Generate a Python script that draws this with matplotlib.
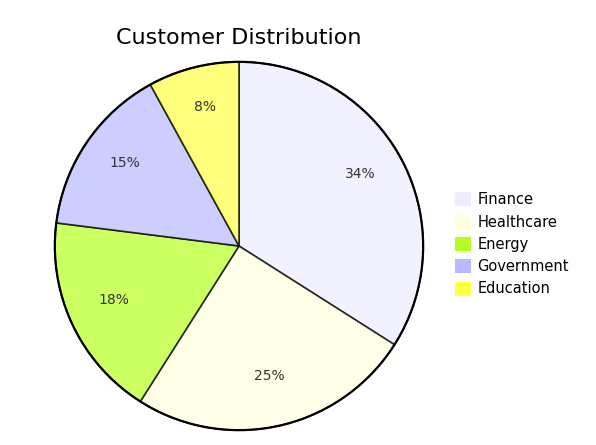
import numpy as np
import matplotlib
matplotlib.use('Agg')
import matplotlib.pyplot as plt
from matplotlib.patches import Patch

categories = ['Finance', 'Healthcare', 'Energy', 'Government', 'Education']
shares = [34, 25, 18, 15, 8]
colors = ['#ececff', '#ffffde', '#b5ff20', '#b9b9ff', '#ffff45']
title = 'Customer Distribution'

plt.rcParams['font.family'] = ['DejaVu Sans']

fig = plt.figure(figsize=(5.96, 4.45), dpi=100)
ax = fig.add_axes([53 / 596, 13 / 445, 372 / 596, 372 / 445])

wedges, texts, autotexts = ax.pie(
    shares, colors=colors, startangle=90, counterclock=False,
    autopct='%1.0f%%', pctdistance=0.75, radius=1.0,
    wedgeprops=dict(edgecolor='black', linewidth=1.2, alpha=0.7),
    textprops=dict(fontsize=10, color='#333333'))
for w in wedges:
    w.set_edgecolor((0, 0, 0, 1))
# labels sit a touch higher in the original
for t in autotexts:
    x, y = t.get_position()
    t.set_position((x, y + 0.028))
circle = plt.Circle((0, 0), 1.0, fill=False, edgecolor='black', linewidth=1.6)
ax.add_patch(circle)
ax.set_xlim(-1.01, 1.01)
ax.set_ylim(-1.01, 1.01)
ax.set_aspect('equal')
ax.axis('off')

fig.text(239 / 596, 1 - 38 / 445, title, ha='center', va='center', fontsize=16, color='black')

handles = [Patch(facecolor=c, edgecolor='none') for c in colors]
fig.legend(handles, categories, loc='upper left', bbox_to_anchor=(448 / 596, 1 - 185 / 445),
           frameon=False, fontsize=10.5, handlelength=1.1, handleheight=1.1,
           handletextpad=0.4, labelspacing=0.5, borderpad=0)

fig.savefig('out.png', dpi=100)
plt.close(fig)
